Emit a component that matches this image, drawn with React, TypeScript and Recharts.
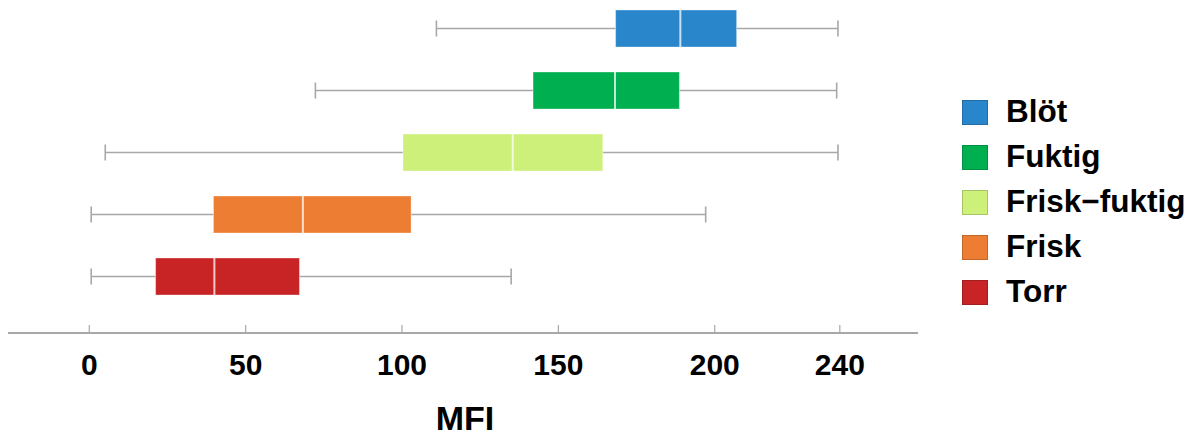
import React from 'react';
import { ComposedChart, Bar, XAxis, YAxis, Legend, Label } from 'recharts';

// Moisture classes, top to bottom
const categories = ['Blöt', 'Fuktig', 'Frisk\u2212fuktig', 'Frisk', 'Torr'];
const boxColors = ['#2a86cb', '#00b050', '#cdf07a', '#ec7d32', '#c82425'];

// Five-number summaries of MFI per class
const minValues = [111, 72.3, 5.1, 0.6, 0.6];
const q1Values = [168.3, 141.9, 100.3, 39.7, 21.2];
const medianValues = [189, 168.1, 135.4, 68.3, 40];
const q3Values = [207, 188.7, 164.2, 102.9, 67.2];
const maxValues = [239.4, 239, 239.4, 197.1, 134.9];

const xTicks = [0, 50, 100, 150, 200, 240];

const rows = categories.map((name, i) => ({
  name,
  range: [minValues[i], maxValues[i]],
  min: minValues[i],
  q1: q1Values[i],
  median: medianValues[i],
  q3: q3Values[i],
  max: maxValues[i],
  color: boxColors[i],
}));

const WHISKER = '#a8a8a8';

// Draws one horizontal box plot inside the bar spanning [min, max]
const BoxShape = (props: any) => {
  const { x, y, width, height, payload } = props;
  const { min, max, q1, median, q3, color } = payload;
  const px = (v: number) => x + ((v - min) / (max - min)) * width;
  const cy = y + height / 2;
  const capHalf = 8;
  return (
    <g>
      <line x1={px(min)} x2={px(q1)} y1={cy} y2={cy} stroke={WHISKER} strokeWidth={1.6} />
      <line x1={px(q3)} x2={px(max)} y1={cy} y2={cy} stroke={WHISKER} strokeWidth={1.6} />
      <line x1={px(min)} x2={px(min)} y1={cy - capHalf} y2={cy + capHalf} stroke={WHISKER} strokeWidth={1.6} />
      <line x1={px(max)} x2={px(max)} y1={cy - capHalf} y2={cy + capHalf} stroke={WHISKER} strokeWidth={1.6} />
      <rect
        x={px(q1)}
        y={y}
        width={px(q3) - px(q1)}
        height={height}
        fill={color}
        stroke="rgba(255,255,255,0.35)"
        strokeWidth={1}
      />
      <line
        x1={px(median)}
        x2={px(median)}
        y1={y}
        y2={y + height}
        stroke="rgba(255,255,255,0.75)"
        strokeWidth={2}
      />
    </g>
  );
};

const AxisTick = (props: any) => {
  const { x, y, payload } = props;
  return (
    <g>
      <line x1={x} x2={x} y1={y - 8} y2={y} stroke={WHISKER} strokeWidth={1.2} />
      <text
        x={x}
        y={y + 42}
        textAnchor="middle"
        fontSize={30}
        fontWeight="bold"
        fill="#000"
        fontFamily="'Liberation Sans', Arial, sans-serif"
      >
        {payload.value}
      </text>
    </g>
  );
};

const LegendContent = () => (
  <div style={{ fontFamily: "'Liberation Sans', Arial, sans-serif" }}>
    {categories.map((name, i) => (
      <div key={name} style={{ display: 'flex', alignItems: 'center', height: 45 }}>
        <div
          style={{
            width: 24,
            height: 23,
            background: boxColors[i],
            border: '1px solid rgba(0,0,0,0.18)',
            marginRight: 18,
            flex: 'none',
          }}
        />
        <span style={{ fontSize: 31.5, fontWeight: 'bold', color: '#000', lineHeight: 1, whiteSpace: 'nowrap' }}>
          {name}
        </span>
      </div>
    ))}
  </div>
);

export default function App() {
  return (
    <div style={{ position: 'absolute', left: 0, top: 0, width: 1193, height: 432, background: '#fff' }}>
      <ComposedChart
        layout="vertical"
        width={1193}
        height={432}
        data={rows}
        margin={{ top: -3, right: 275, bottom: 0, left: 8 }}
      >
        <XAxis
          type="number"
          domain={[-26, 265]}
          ticks={xTicks}
          allowDataOverflow
          height={99}
          tickSize={0}
          tickMargin={0}
          tickLine={false}
          axisLine={{ stroke: WHISKER, strokeWidth: 1.8 }}
          tick={<AxisTick />}
          interval={0}
        >
          <Label
            value="MFI"
            position="insideBottom"
            offset={2}
            dx={2}
            style={{ fontSize: 34, fontWeight: 'bold', fill: '#000', fontFamily: "'Liberation Sans', Arial, sans-serif" }}
          />
        </XAxis>
        <YAxis type="category" dataKey="name" hide padding={{ top: 0, bottom: 26 }} />
        <Legend
          layout="vertical"
          align="center"
          verticalAlign="middle"
          content={<LegendContent />}
          wrapperStyle={{ left: 962, top: 89.5, width: 231, height: 225 }}
        />
        <Bar dataKey="range" barSize={37} shape={<BoxShape />} isAnimationActive={false} />
      </ComposedChart>
    </div>
  );
}
